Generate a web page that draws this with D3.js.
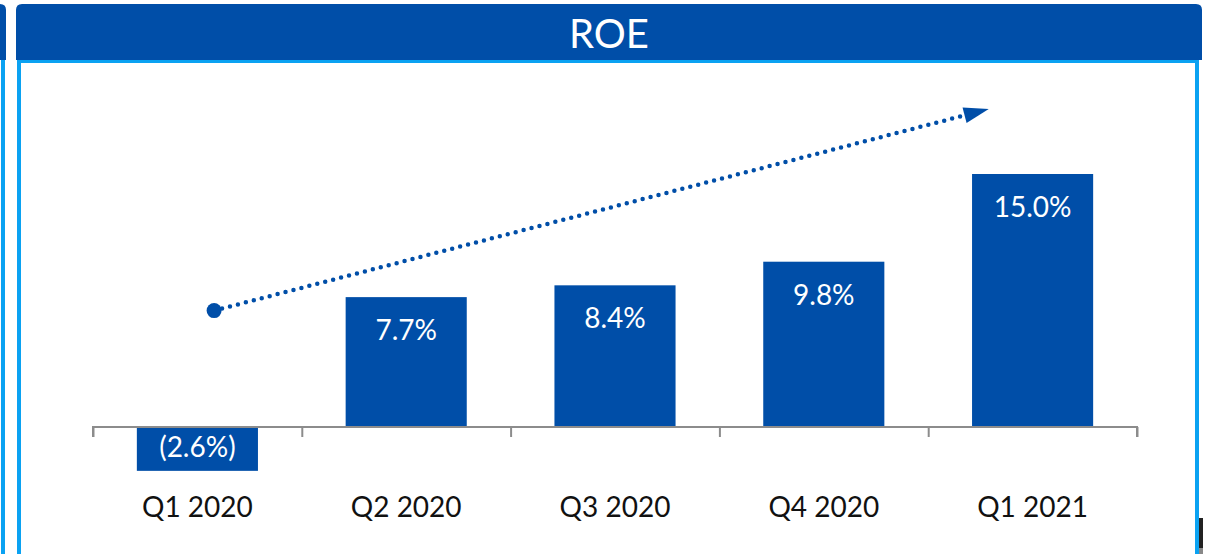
<!DOCTYPE html>
<html>
<head>
<meta charset="utf-8">
<script src="https://cdn.jsdelivr.net/npm/d3@7"></script>
<style>
  body { margin: 0; background: #fff; }
  svg { display: block; }
</style>
</head>
<body>
<div id="chart"></div>
<script>
// ROE by quarter
var categories = ["Q1 2020", "Q2 2020", "Q3 2020", "Q4 2020", "Q1 2021"];
var roeValues = [-2.6, 7.7, 8.4, 9.8, 15.0];
var valueLabels = ["(2.6%)", "7.7%", "8.4%", "9.8%", "15.0%"];
var chartTitle = "ROE";
// trend arrow, in (band index, percent) space
var trendFrom = [0.58, 6.9];
var trendTo = [4.29, 18.85];

var dark = "#004ea8", light = "#0aa2f2";
var W = 1215, H = 554;

var svg = d3.select("#chart").append("svg").attr("width", W).attr("height", H);

// frame: left sliver of previous panel + this panel
svg.append("path").attr("d", "M0,4 H0 Q6,4 6,10 V60 H0 Z").attr("fill", dark);
svg.append("rect").attr("x", 1).attr("y", 60).attr("width", 4).attr("height", H - 60).attr("fill", light);
svg.append("path").attr("d", "M16,60 V10 Q16,4 22,4 H1196 Q1202,4 1202,10 V60 Z").attr("fill", dark);
svg.append("rect").attr("x", 17).attr("y", 60).attr("width", 1182).attr("height", 3).attr("fill", light);
svg.append("rect").attr("x", 17).attr("y", 60).attr("width", 4).attr("height", H - 60).attr("fill", light);
svg.append("rect").attr("x", 1195).attr("y", 60).attr("width", 4).attr("height", H - 60).attr("fill", light);
svg.append("rect").attr("x", 1199).attr("y", 518).attr("width", 4).attr("height", 30).attr("fill", "#222");
svg.append("rect").attr("x", 1199).attr("y", 548).attr("width", 4).attr("height", 6).attr("fill", "#888");

svg.append("text").attr("x", 609).attr("y", 48).attr("text-anchor", "middle")
  .style("font-family", "Lato, 'Open Sans', sans-serif").style("font-size", "40px").style("fill", "white")
  .text(chartTitle);

var x = d3.scaleBand().domain(categories).range([93, 1137]).paddingInner(0.42).paddingOuter(0.21);
var xi = d3.scaleLinear().domain([0, categories.length]).range([93, 1137]);
var y = d3.scaleLinear().domain([0, 15]).range([427, 174]);

var font = "Lato, 'Open Sans', sans-serif";

// bars
svg.selectAll("rect.bar").data(roeValues).enter().append("rect").attr("class", "bar")
  .attr("x", function(d, i){ return x(categories[i]); })
  .attr("y", function(d){ return d >= 0 ? y(d) : y(0); })
  .attr("width", x.bandwidth())
  .attr("height", function(d){ return Math.abs(y(d) - y(0)); })
  .attr("fill", dark);

// value labels inside end
svg.selectAll("text.val").data(roeValues).enter().append("text").attr("class", "val")
  .attr("x", function(d, i){ return x(categories[i]) + x.bandwidth() / 2; })
  .attr("y", function(d){ return d >= 0 ? y(d) + 43 : y(d) - 14; })
  .attr("text-anchor", "middle")
  .style("font-family", font).style("font-size", "28px").style("fill", "white")
  .text(function(d, i){ return valueLabels[i]; });

// axis line with ticks at band boundaries
var axisG = svg.append("g").attr("transform", "translate(0," + y(0) + ")")
  .call(d3.axisBottom(xi).tickValues(d3.range(categories.length + 1)).tickSize(10).tickSizeOuter(10).tickFormat(""));
axisG.selectAll("path,line").attr("stroke", "#8c8c8c").attr("stroke-width", 2);
axisG.select("path.domain").attr("d", "M93,10V0H1137V10");

// category labels
var labG = svg.append("g").attr("transform", "translate(0,517)")
  .call(d3.axisBottom(x).tickSize(0).tickPadding(0));
labG.select(".domain").remove();
labG.selectAll("text").attr("dy", 0).style("font-family", font).style("font-size", "28px").style("fill", "#111");

// dotted trend arrow
var x0 = xi(trendFrom[0]), y0 = y(trendFrom[1]);
var x1 = xi(trendTo[0]), y1 = y(trendTo[1]);
var ang = Math.atan2(y1 - y0, x1 - x0);
var headLen = 25, headHalf = 8;
var bx = x1 - headLen * Math.cos(ang), by = y1 - headLen * Math.sin(ang);
svg.append("line").attr("x1", x0).attr("y1", y0).attr("x2", bx + 4 * Math.cos(ang)).attr("y2", by + 4 * Math.sin(ang))
  .attr("stroke", dark).attr("stroke-width", 4.5).attr("stroke-linecap", "round").attr("stroke-dasharray", "0 8.2");
svg.append("circle").attr("cx", x0).attr("cy", y0).attr("r", 7.5).attr("fill", dark);
svg.append("polygon")
  .attr("points", [
    [x1, y1],
    [bx + headHalf * Math.sin(ang), by - headHalf * Math.cos(ang)],
    [bx - headHalf * Math.sin(ang), by + headHalf * Math.cos(ang)]
  ].map(function(p){ return p.join(","); }).join(" "))
  .attr("fill", dark);
</script>
</body>
</html>
